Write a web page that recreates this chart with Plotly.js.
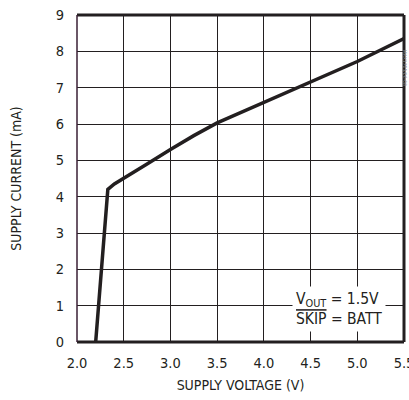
<!DOCTYPE html>
<html><head><meta charset="utf-8">
<script src="https://cdn.plot.ly/plotly-3.0.1.min.js"></script>
<style>html,body{margin:0;padding:0;background:#fff}</style>
</head><body>
<div id="chart" style="width:409px;height:400px"></div>
<script>
const voltage = [2.2, 2.33, 2.4, 2.5, 2.75, 3.0, 3.25, 3.5, 4.0, 4.5, 5.0, 5.5];
const current = [0, 4.2, 4.35, 4.5, 4.9, 5.3, 5.68, 6.03, 6.6, 7.15, 7.72, 8.35];
const xTicks = [2.0, 2.5, 3.0, 3.5, 4.0, 4.5, 5.0, 5.5];
const xTickText = ["2.0","2.5","3.0","3.5","4.0","4.5","5.0","5.5"];
const yTicks = [0,1,2,3,4,5,6,7,8,9];

const FONT = "DejaVu Sans Condensed, Liberation Sans Narrow, Roboto, sans-serif";

const trace = {x: voltage, y: current, mode: 'lines', line: {color: '#231f20', width: 3.5}, hoverinfo: 'skip'};

const layout = {
  width: 409, height: 400,
  margin: {l: 77, r: 5, t: 15, b: 58},
  paper_bgcolor: '#fff', plot_bgcolor: '#fff',
  showlegend: false,
  font: {family: FONT, color: '#231f20', size: 14},
  xaxis: {range: [2.0, 5.5], tickvals: xTicks, ticktext: xTickText, showgrid: true, gridcolor: '#231f20', gridwidth: 1,
          zeroline: false, showline: false, ticks: '', tickfont: {size: 14.5}, ticklabelstandoff: 10,
          ticklabeloverflow: 'allow', automargin: false,
          title: {text: 'SUPPLY VOLTAGE (V)', font: {size: 14}, standoff: 10}},
  yaxis: {range: [0, 9], tickvals: yTicks, showgrid: true, gridcolor: '#231f20', gridwidth: 1,
          zeroline: false, showline: false, ticks: '', tickfont: {size: 14.5}, ticklabelstandoff: 12,
          automargin: false,
          title: {text: 'SUPPLY CURRENT (mA)', font: {size: 14}, standoff: 30}},
  shapes: [
    {type: 'line', xref: 'paper', yref: 'paper', x0: 0, x1: 1, y0: 1, y1: 1, line: {color: '#231f20', width: 3}},
    {type: 'line', xref: 'paper', yref: 'paper', x0: 1, x1: 1, y0: 0, y1: 1, line: {color: '#231f20', width: 3}},
    {type: 'line', xref: 'paper', yref: 'paper', x0: 0, x1: 1, y0: 0, y1: 0, line: {color: '#231f20', width: 3}},
    {type: 'line', xref: 'paper', yref: 'paper', x0: 0, x1: 0, y0: 0, y1: 1, line: {color: '#3a1f35', width: 1.5}}
  ],
  annotations: [
    {xref: 'x', yref: 'y', x: 4.8, y: 0.92, text: 'V<sub>OUT</sub> = 1.5V<br><span style="text-decoration:overline">SKIP</span> = BATT',
     showarrow: false, align: 'left', bgcolor: '#fff', borderpad: 3, font: {size: 15.5, family: FONT, color: '#231f20'}},
    {xref: 'paper', yref: 'paper', x: 1.018, y: 0.9, text: 'MAX1705/06-08', textangle: 90, showarrow: false,
     font: {size: 5, family: FONT, color: '#888'}}
  ]
};
Plotly.newPlot('chart', [trace], layout, {staticPlot: true, displayModeBar: false});
</script>
</body></html>
